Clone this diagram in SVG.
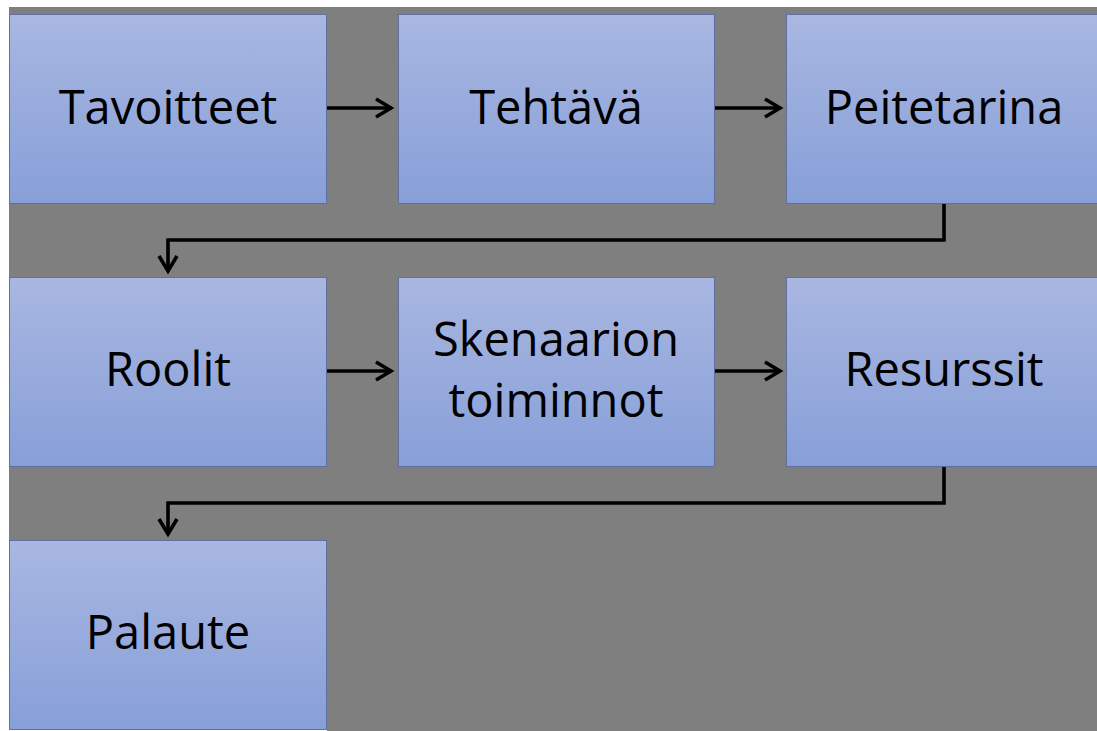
<svg xmlns="http://www.w3.org/2000/svg" width="1097" height="731" viewBox="0 0 1097 731">
  <style>
    .box { fill: url(#boxFill); stroke: #5f6f9f; stroke-width: 1; }
    .label { font-family: "Open Sans", "Noto Sans", "DejaVu Sans", sans-serif; font-size: 47px; fill: #000; text-anchor: middle; }
    .link { fill: none; stroke: #000; stroke-width: 3.6; }
  </style>
  <defs>
    <linearGradient id="boxFill" x1="0" y1="0" x2="0" y2="1">
      <stop offset="0" stop-color="#a9b7e1"/>
      <stop offset="1" stop-color="#879fd8"/>
    </linearGradient>
    <marker id="arrow" viewBox="0 0 22 22" refX="18" refY="11" markerWidth="22" markerHeight="22" markerUnits="userSpaceOnUse" orient="auto">
      <path d="M3,2 L18,11 L3,20" fill="none" stroke="#000" stroke-width="3.6"/>
    </marker>
  </defs>

  <!-- page and canvas -->
  <rect x="0" y="0" width="1097" height="731" fill="#ffffff"/>
  <rect x="9" y="7" width="1088" height="724" fill="#7f7f7f"/>

  <!-- row 1 -->
  <g id="node-tavoitteet">
    <rect class="box" x="9.5" y="14.5" width="317" height="189"/>
    <text class="label" x="168" y="124">Tavoitteet</text>
  </g>
  <g id="node-tehtava">
    <rect class="box" x="398.5" y="14.5" width="316" height="189"/>
    <text class="label" x="556" y="124">Tehtävä</text>
  </g>
  <g id="node-peitetarina">
    <rect class="box" x="786.5" y="14.5" width="318" height="189"/>
    <text class="label" x="944" y="124">Peitetarina</text>
  </g>

  <!-- row 2 -->
  <g id="node-roolit">
    <rect class="box" x="9.5" y="277.5" width="317" height="189"/>
    <text class="label" x="168" y="386">Roolit</text>
  </g>
  <g id="node-skenaarion-toiminnot">
    <rect class="box" x="398.5" y="277.5" width="316" height="189"/>
    <text class="label" x="556" y="356">Skenaarion</text>
    <text class="label" x="556" y="417">toiminnot</text>
  </g>
  <g id="node-resurssit">
    <rect class="box" x="786.5" y="277.5" width="318" height="189"/>
    <text class="label" x="944" y="386">Resurssit</text>
  </g>

  <!-- row 3 -->
  <g id="node-palaute">
    <rect class="box" x="9.5" y="540.5" width="317" height="189"/>
    <text class="label" x="168" y="649">Palaute</text>
  </g>
  <rect x="0" y="730" width="327" height="1" fill="#ffffff"/>

  <!-- connectors -->
  <g id="connectors">
    <line class="link" x1="327" y1="108" x2="391" y2="108" marker-end="url(#arrow)"/>
    <line class="link" x1="715" y1="108" x2="780" y2="108" marker-end="url(#arrow)"/>
    <polyline class="link" points="944,204 944,240 168,240 168,271" marker-end="url(#arrow)"/>
    <line class="link" x1="327" y1="371" x2="391" y2="371" marker-end="url(#arrow)"/>
    <line class="link" x1="715" y1="371" x2="780" y2="371" marker-end="url(#arrow)"/>
    <polyline class="link" points="944,467 944,503 168,503 168,534" marker-end="url(#arrow)"/>
  </g>
</svg>
